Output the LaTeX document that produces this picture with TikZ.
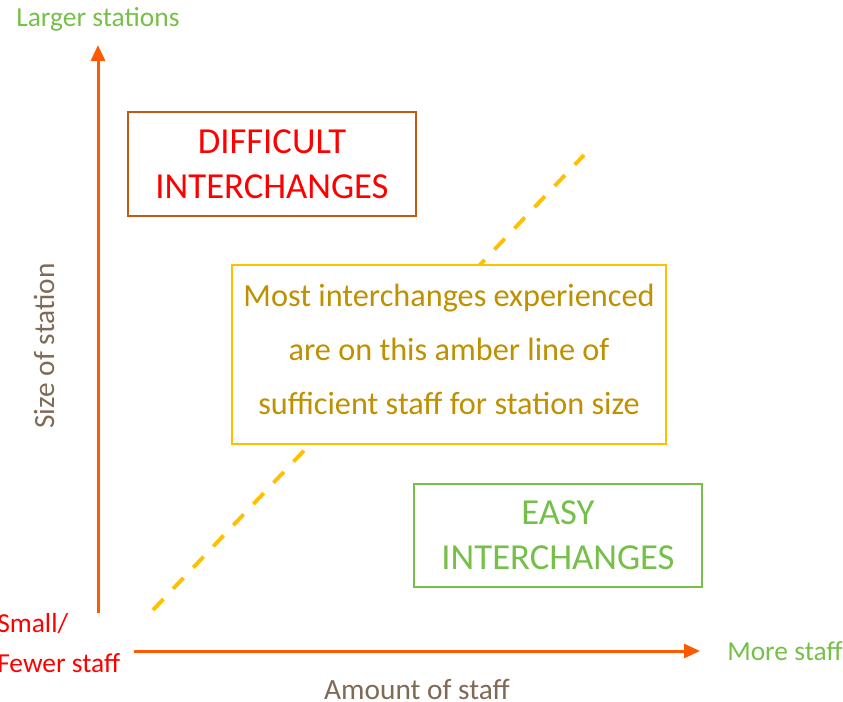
\documentclass[tikz,border=0pt]{standalone}
\usepackage{fontspec}
\setmainfont{Carlito}
\usetikzlibrary{arrows.meta}
\definecolor{axisc}{HTML}{FF5A00}
\definecolor{diffb}{HTML}{C55A11}
\definecolor{diffr}{HTML}{FF0000}
\definecolor{amber}{HTML}{FFC000}
\definecolor{ambertext}{HTML}{BF9000}
\definecolor{easyg}{HTML}{76C04A}
\definecolor{titlec}{HTML}{7F6A55}
\begin{document}
\begin{tikzpicture}[x=0.75pt,y=-0.75pt,
  boxst/.style={draw, line width=1.5pt, align=center, inner sep=0pt, fill=white},
  bigtext/.style={font=\fontsize{27.5}{33.75}\selectfont},
  midtext/.style={font=\fontsize{24.2}{40.5}\selectfont},
  lbl/.style={font=\fontsize{20.6}{30}\selectfont, anchor=base west, inner sep=0pt},
  axtitle/.style={font=\fontsize{22}{26}\selectfont, text=titlec, inner sep=0pt},
  axisline/.style={draw=axisc, line width=2.25pt, -{Triangle[length=12pt,width=10.5pt]}},
  amberline/.style={draw=amber, line width=2.9pt, dash pattern=on 11.3pt off 10.6pt}]
\useasboundingbox (0,0) rectangle (843,702);
% coordinates
\coordinate (yb) at (98,613);
\coordinate (yt) at (98,45);
\coordinate (xl) at (134,651);
\coordinate (xr) at (700,651);
\coordinate (ds) at (153,610);
\coordinate (de) at (584,155);
% amber dashed line
\draw[amberline] (ds) -- (de);
% axes
\draw[axisline] (yb) -- (yt);
\draw[axisline] (xl) -- (xr);
% boxes
\node[boxst, bigtext, draw=diffb, text=diffr, minimum width=216pt, minimum height=78pt] (diff) at (272,164) {DIFFICULT\\INTERCHANGES};
\node[boxst, midtext, draw=amber, text=ambertext, text depth=7.5pt, minimum width=325.5pt, minimum height=134.25pt] (mid) at (449,354.5) {Most interchanges experienced\\are on this amber line of\\sufficient staff for station size};
\node[boxst, bigtext, draw=easyg, text=easyg, minimum width=216pt, minimum height=77.25pt] (easy) at (558,535.5) {EASY\\INTERCHANGES};
% labels
\node[lbl, text=easyg] (larger) at (16,27) {Larger stations};
\node[lbl, text=easyg] (more) at (727,660) {More staff};
\node[lbl, text=diffr] (small) at (-3,632) {Small/};
\node[lbl, text=diffr] (fewer) at (-3,672) {Fewer staff};
\node[axtitle, rotate=90] (size) at (44,346) {Size of station};
\node[axtitle] (amount) at (417,689) {Amount of staff};
\end{tikzpicture}
\end{document}
